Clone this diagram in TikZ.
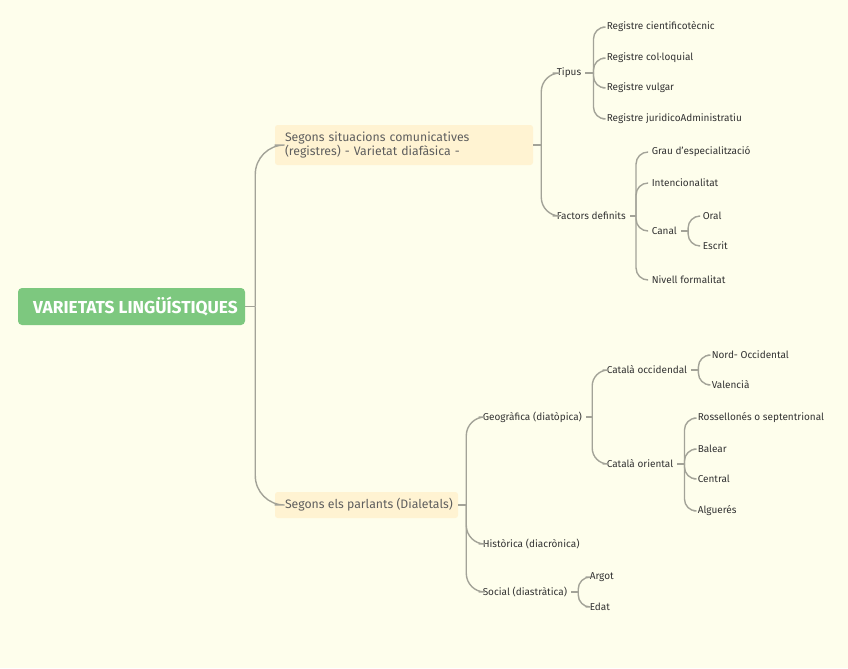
\documentclass[tikz,border=0pt]{standalone}
\usepackage{fontspec}
\setmainfont{Fira Sans}
\usetikzlibrary{calc}
\definecolor{bg}{HTML}{FEFEEC}
\definecolor{rootc}{HTML}{7DC87F}
\definecolor{boxc}{HTML}{FFF3D2}
\definecolor{connc}{HTML}{A3A398}
\definecolor{labc}{HTML}{333333}
\definecolor{boxt}{HTML}{5E5E5E}
\tikzset{
  conn/.style={draw=connc, line width=1.05pt, rounded corners=9pt},
  lab/.style={anchor=west, inner xsep=0pt, inner ysep=1pt, outer xsep=3.2pt, text=labc, font=\fontsize{7.5pt}{9pt}\selectfont},
  rootbox/.style={fill=rootc, rounded corners=3pt, text=white, font=\fontsize{13pt}{15pt}\selectfont\bfseries, minimum width=170.25pt, minimum height=27.75pt, inner sep=0pt},
  catbox/.style={fill=boxc, rounded corners=2pt, text=boxt, font=\fontsize{9.2pt}{11.2pt}\selectfont, inner sep=0pt, align=left}
}
\begin{document}
\begin{tikzpicture}[x=0.75pt,y=-0.75pt]
\fill[bg] (0,0) rectangle (848,668);
\useasboundingbox (0,0) rectangle (848,668);
% root
\node[rootbox] (root) at (131.5,306.5) {\hspace*{6pt}VARIETATS LINGÜÍSTIQUES};
% level 1
\node[catbox, minimum width=193.5pt, minimum height=30pt, inner xsep=7.5pt, text width=178.5pt] (s1) at (404,145) {Segons situacions comunicatives\\(registres) - Varietat diafàsica -};
\node[catbox, minimum width=137.25pt, minimum height=19.5pt] (s2) at (366.5,505) {\makebox[137.25pt][l]{\hspace{7.5pt}Segons els parlants (Dialetals)}};
% level 2 / 3
\node[lab] (tip) at (552.5,73) {Tipus};
\node[lab] (r1) at (602.5,27) {Registre cientificotècnic};
\node[lab] (r2) at (602.5,58) {Registre col·loquial};
\node[lab] (r3) at (602.5,88) {Registre vulgar};
\node[lab] (r4) at (602.5,119) {Registre juridicoAdministratiu};
\node[lab] (fac) at (552.5,216) {Factors definits};
\node[lab] (f1) at (647.5,152) {Grau d'especialització};
\node[lab] (f2) at (647.5,183) {Intencionalitat};
\node[lab] (f3) at (647.5,231) {Canal};
\node[lab] (f4) at (647.5,280) {Nivell formalitat};
\node[lab] (c1) at (698.5,216) {Oral};
\node[lab] (c2) at (698.5,246) {Escrit};
\node[lab] (geo) at (478.5,417) {Geogràfica (diatòpica)};
\node[lab] (his) at (478.5,544) {Històrica (diacrònica)};
\node[lab] (soc) at (478.5,592) {Social (diastràtica)};
\node[lab] (occ) at (602.5,370) {Català occidendal};
\node[lab] (ori) at (602.5,464) {Català oriental};
\node[lab] (o1) at (707.5,355) {Nord- Occidental};
\node[lab] (o2) at (707.5,385) {Valencià};
\node[lab] (e1) at (693.5,418) {Rossellonés o septentrional};
\node[lab] (e2) at (693.5,449) {Balear};
\node[lab] (e3) at (693.5,479) {Central};
\node[lab] (e4) at (693.5,511) {Alguerés};
\node[lab] (a1) at (585.5,577) {Argot};
\node[lab] (a2) at (585.5,607) {Edat};
% connectors
\draw[conn] (root.east) -- ++(10,0) coordinate (jr);
\draw[conn, rounded corners=22pt] (jr) |- (s1.west);
\draw[conn, rounded corners=22pt] (jr) |- (s2.west);
\draw[conn] (s1.east) -- ++(8,0) coordinate (js1);
\draw[conn, rounded corners=14pt] (js1) |- (tip.west);
\draw[conn, rounded corners=14pt] (js1) |- (fac.west);
\draw[conn] (tip.east) -- ++(8,0) coordinate (jt);
\foreach \c in {r1,r2,r3,r4} \draw[conn] (jt) |- (\c.west);
\draw[conn] (fac.east) -- ++(6,0) coordinate (jf);
\foreach \c in {f1,f2,f3,f4} \draw[conn] (jf) |- (\c.west);
\draw[conn] (f3.east) -- ++(7,0) coordinate (jc);
\foreach \c in {c1,c2} \draw[conn] (jc) |- (\c.west);
\draw[conn] (s2.east) -- ++(8,0) coordinate (js2);
\foreach \c in {geo,his,soc} \draw[conn, rounded corners=14pt] (js2) |- (\c.west);
\draw[conn] (geo.east) -- ++(6,0) coordinate (jg);
\foreach \c in {occ,ori} \draw[conn, rounded corners=12pt] (jg) |- (\c.west);
\draw[conn] (occ.east) -- ++(7,0) coordinate (jo);
\foreach \c in {o1,o2} \draw[conn] (jo) |- (\c.west);
\draw[conn] (ori.east) -- ++(7,0) coordinate (je);
\foreach \c in {e1,e2,e3,e4} \draw[conn] (je) |- (\c.west);
\draw[conn] (soc.east) -- ++(7,0) coordinate (js);
\foreach \c in {a1,a2} \draw[conn] (js) |- (\c.west);
\end{tikzpicture}
\end{document}
